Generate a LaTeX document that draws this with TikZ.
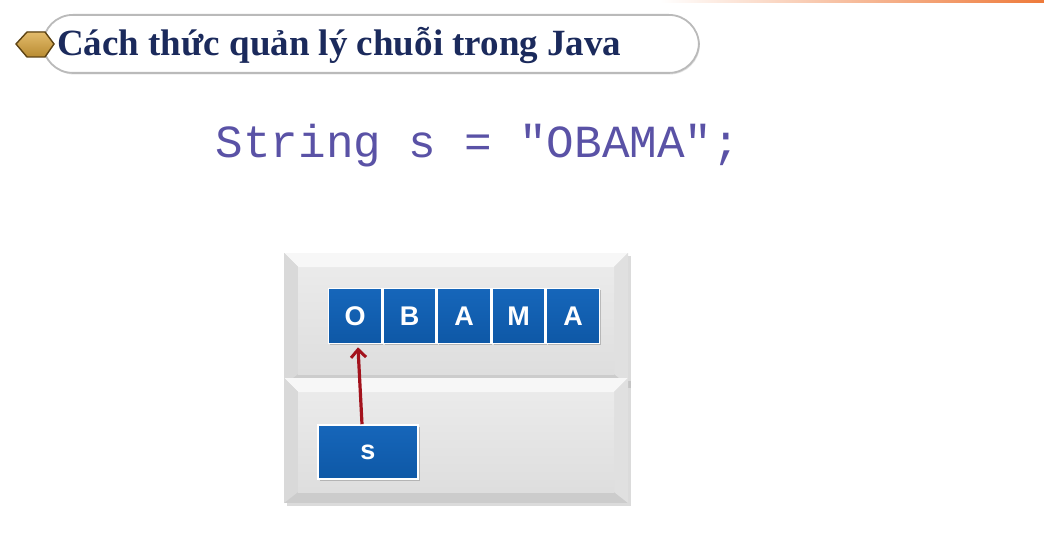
\documentclass[tikz,border=0pt]{standalone}
\usepackage{fontspec}
\setmainfont{Liberation Serif}
\newfontfamily\codefont{Liberation Mono}
\newfontfamily\boxfont{Liberation Sans}
\usetikzlibrary{shadows,arrows.meta}
\definecolor{titleink}{HTML}{1B2A5C}
\definecolor{codeink}{HTML}{5A52A6}
\definecolor{cellblue}{HTML}{1666BA}
\definecolor{celldark}{HTML}{0E58A6}
\definecolor{arrowred}{HTML}{A3121C}
\definecolor{hexgold}{HTML}{D9A43A}
\definecolor{hexedge}{HTML}{5E4414}
\definecolor{topline}{HTML}{EE7A3A}
\tikzset{
  cell/.style={draw=white, line width=1.6pt, top color=cellblue, bottom color=celldark,
    minimum width=53pt, minimum height=55pt, inner sep=0pt,
    text=white, font=\boxfont\bfseries\fontsize{27}{27}\selectfont,
    drop shadow={shadow xshift=1.5pt, shadow yshift=-1.5pt, opacity=.35, fill=black!60}},
  pointer/.style={draw=arrowred, line width=3.2pt, -{Straight Barb[length=8pt,width=15pt,line width=3pt]}},
  bevelhi/.style={fill=white!97!black},
  bevelleft/.style={fill=black!15},
  bevelright/.style={fill=black!12},
  bevellow/.style={fill=black!20},
  face/.style={top color=black!8, bottom color=black!13},
}
\begin{document}
\begin{tikzpicture}[x=1pt,y=-1pt]
\useasboundingbox (0,0) rectangle (1044,559);
\fill[white] (0,0) rectangle (1044,559);

% orange rule along the top edge
\shade[left color=white, right color=topline] (660,0) rectangle (1044,3);

% title banner
\node[draw=black!27, line width=1.8pt, rounded corners=30pt, fill=white,
  minimum width=656pt, minimum height=58pt, anchor=north west,
  drop shadow={shadow xshift=1pt, shadow yshift=-1.5pt, opacity=.25}] (banner) at (42,14) {};
\filldraw[draw=hexedge, line width=1.4pt, top color=hexgold!75!white, bottom color=hexgold!85!black]
  (16,44) -- (27,32) -- (45,32) -- (54,44) -- (45,57) -- (27,57) -- cycle;
\node[anchor=west, text=titleink, font=\bfseries\fontsize{37}{37}\selectfont, inner sep=0pt]
  (title) at (57,45) {Cách thức quản lý chuỗi trong Java};

% code line
\node[text=codeink, font=\codefont\fontsize{46}{46}\selectfont, inner sep=0pt]
  (code) at (478,146) {String s = "OBAMA";};

% upper memory panel
\fill[black!35, opacity=.4] (287,256) rectangle (631,388);
\fill[bevellow] (284,253) rectangle (628,385);
\fill[bevelhi] (284,253) -- (628,253) -- (614,267) -- (298,267) -- cycle;
\fill[bevelleft] (284,253) -- (298,267) -- (298,374) -- (284,385) -- cycle;
\fill[bevelright] (628,253) -- (614,267) -- (614,374) -- (628,385) -- cycle;
\shade[face] (298,267) rectangle (614,374);

% lower memory panel
\fill[black!35, opacity=.4] (287,381) rectangle (631,506);
\fill[bevellow] (284,378) rectangle (628,503);
\fill[bevelhi] (284,378) -- (628,378) -- (614,392) -- (298,392) -- cycle;
\fill[bevelleft] (284,378) -- (298,392) -- (298,492) -- (284,503) -- cycle;
\fill[bevelright] (628,378) -- (614,392) -- (614,492) -- (628,503) -- cycle;
\shade[face] (298,392) rectangle (614,492);

% character cells
\node[cell] (c1) at (355,316) {O};
\node[cell] (c2) at (409.5,316) {B};
\node[cell] (c3) at (464,316) {A};
\node[cell] (c4) at (518.5,316) {M};
\node[cell] (c5) at (573,316) {A};

% reference variable
\node[cell, minimum width=100pt, minimum height=54pt] (s) at (368,452) {s};

% reference arrow
\draw[pointer] ([xshift=-6pt]s.north) -- ([xshift=3pt,yshift=-3pt]c1.south);
\end{tikzpicture}
\end{document}
